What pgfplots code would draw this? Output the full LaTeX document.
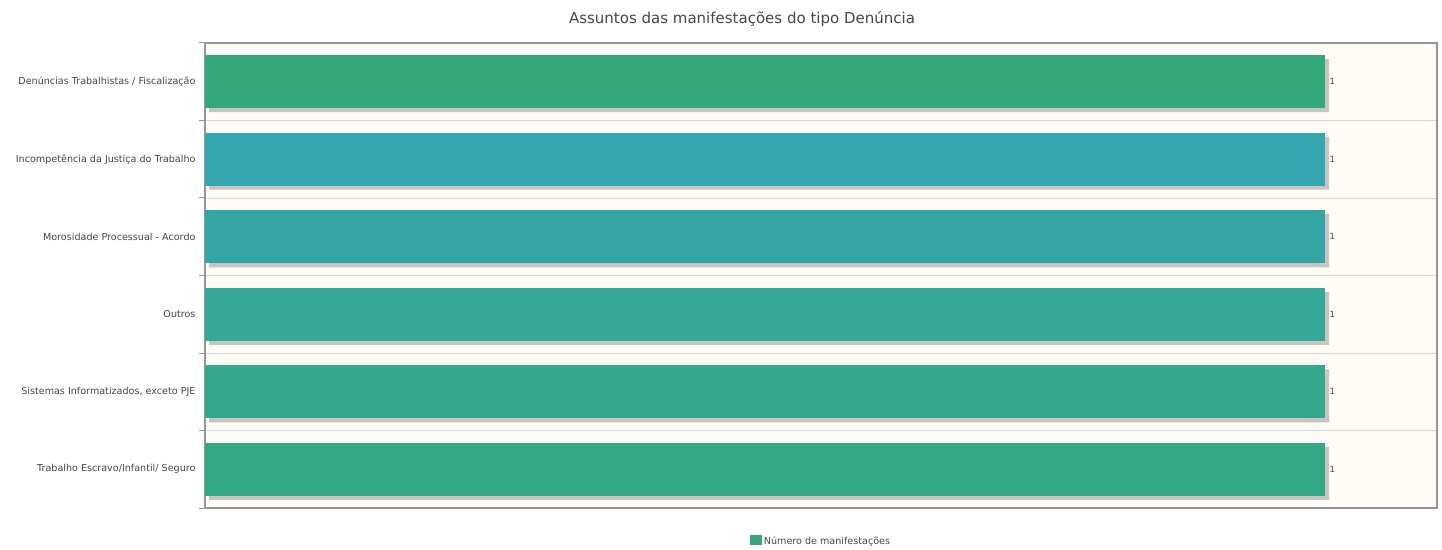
\documentclass[border=0pt]{standalone}
\usepackage{pgfplots}
\pgfplotsset{compat=1.18}
\usepackage{fontspec}
\setmainfont{DejaVu Sans}
\definecolor{c1}{RGB}{51,168,122}
\definecolor{c2}{RGB}{51,166,175}
\definecolor{c3}{RGB}{51,166,164}
\definecolor{c4}{RGB}{51,167,152}
\definecolor{c5}{RGB}{51,168,140}
\definecolor{c6}{RGB}{51,168,132}
\definecolor{bgc}{RGB}{255,252,245}
\definecolor{framec}{RGB}{150,150,150}
\definecolor{gridc}{RGB}{215,215,215}
\definecolor{txt}{RGB}{70,70,70}
\begin{document}
\begin{tikzpicture}
\begin{axis}[
  scale only axis,
  width=1232pt, height=465pt,
  xbar, bar width=53pt, bar shift=0pt,
  xmin=0, xmax=1.1,
  ymin=-0.5, ymax=5.5, y dir=reverse,
  ytick={0,1,2,3,4,5},
  yticklabels={Denúncias Trabalhistas / Fiscalização, Incompetência da Justiça do Trabalho, Morosidade Processual - Acordo, Outros, {Sistemas Informatizados, exceto PJE}, Trabalho Escravo/Infantil/ Seguro},
  yticklabel style={font=\fontsize{9.6}{11}\selectfont, text=txt, xshift=-6pt},
  ytick pos=left,
  major tick length=0pt,
  minor ytick={-0.5,0.5,1.5,2.5,3.5,4.5,5.5},
  minor tick length=6pt,
  tick align=outside,
  minor tick style={framec, line width=1pt},
  ymajorgrids=false, yminorgrids=true,
  minor grid style={gridc, line width=0.8pt},
  xtick=\empty,
  axis background/.style={fill=bgc},
  axis line style={framec, line width=1.6pt},
  title={Assuntos das manifestações do tipo Denúncia},
  title style={font=\fontsize{15}{17}\selectfont, text=txt, yshift=7pt, xshift=-79pt},
  nodes near coords,
  every node near coord/.append style={font=\fontsize{8.5}{9}\selectfont, text=txt, anchor=west, xshift=1pt, /pgf/number format/assume math mode=true},
  legend style={at={(0.5,-0.052)}, anchor=north, draw=none, fill=none, font=\fontsize{9.6}{11}\selectfont, text=txt, legend columns=1},
  legend image code/.code={\fill[#1] (0cm,-4.5pt) rectangle (12pt,6pt);},
]
% shadows
\addplot[fill=black!55, draw=none, opacity=0.4, xshift=4pt, yshift=-4pt, nodes near coords={}, forget plot] coordinates {(1,0) (1,1) (1,2) (1,3) (1,4) (1,5)};
\addplot[fill=c1, draw=none] coordinates {(1,0)};
\addlegendentry{Número de manifestações}
\addplot[fill=c2, draw=none, forget plot] coordinates {(1,1)};
\addplot[fill=c3, draw=none, forget plot] coordinates {(1,2)};
\addplot[fill=c4, draw=none, forget plot] coordinates {(1,3)};
\addplot[fill=c5, draw=none, forget plot] coordinates {(1,4)};
\addplot[fill=c6, draw=none, forget plot] coordinates {(1,5)};
\end{axis}
\path[use as bounding box] ([xshift=-205pt,yshift=-40pt]current axis.south west) rectangle ([xshift=5pt,yshift=43pt]current axis.north east);
\end{tikzpicture}
\end{document}
